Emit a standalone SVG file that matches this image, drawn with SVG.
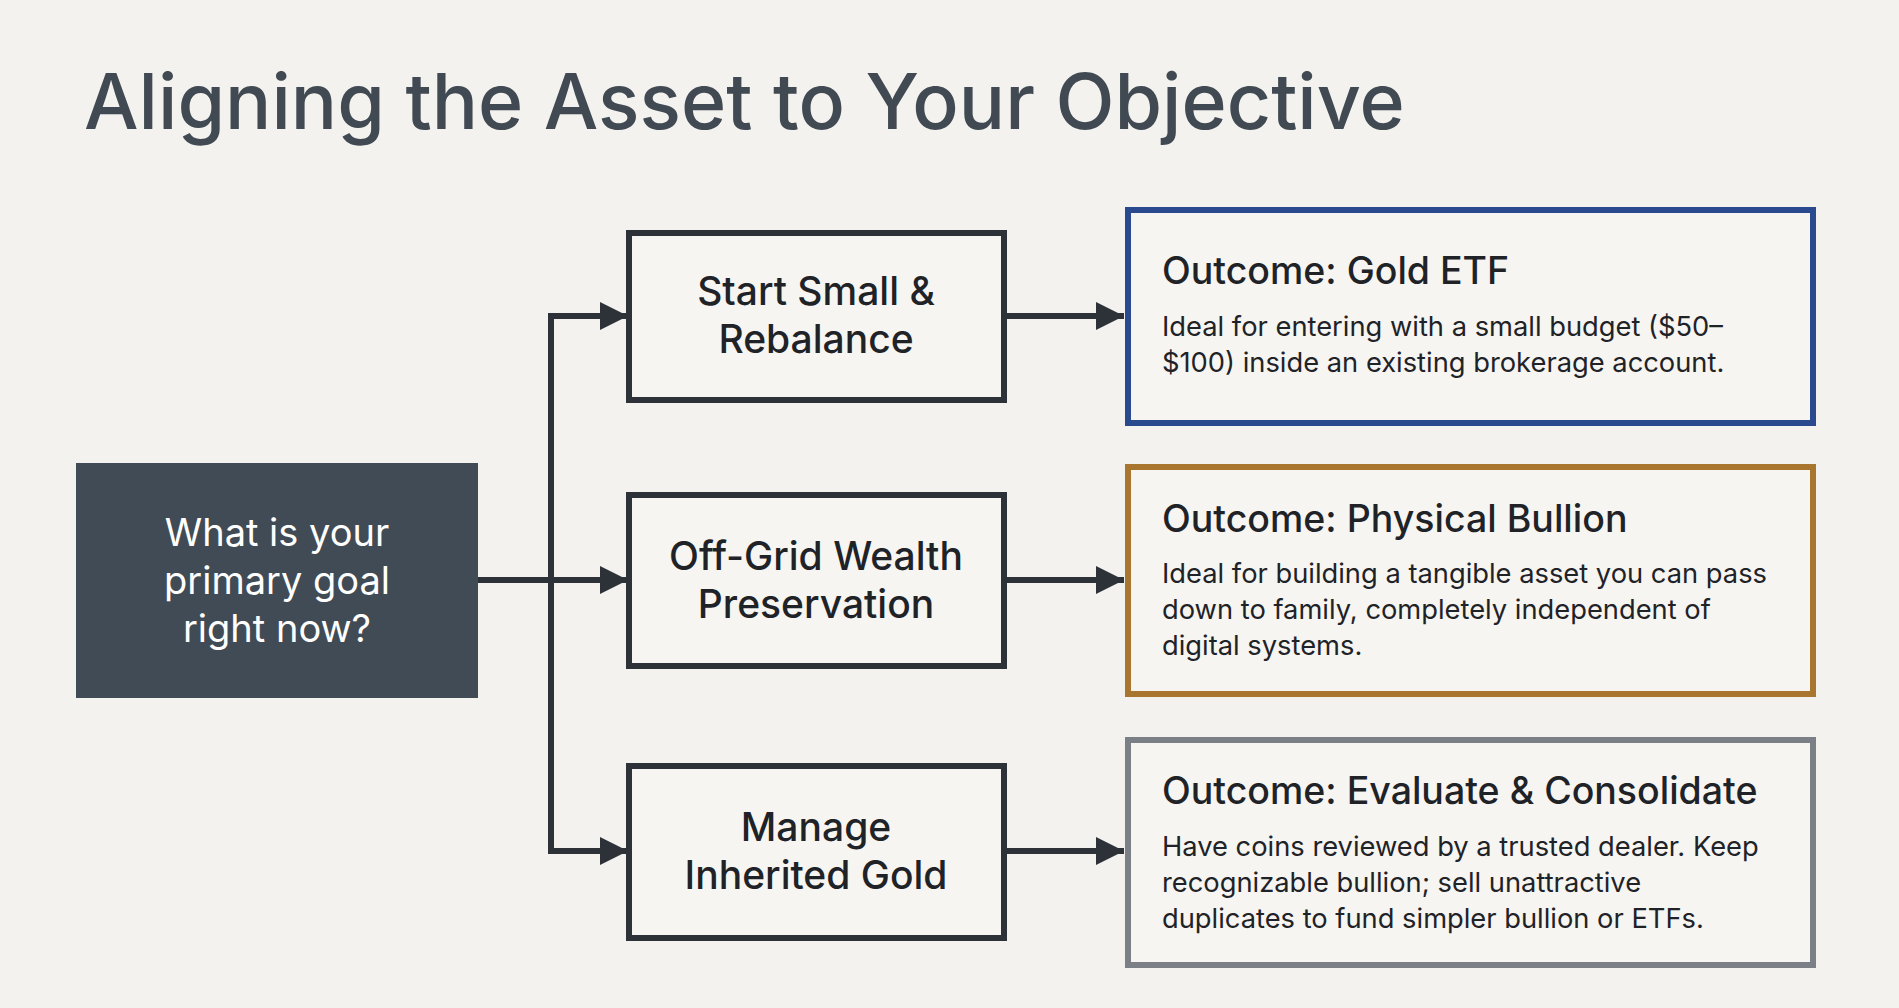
<svg xmlns="http://www.w3.org/2000/svg" width="1899" height="1008" viewBox="0 0 1899 1008">
<style>
.t{font-family:Inter,"Noto Sans","Liberation Sans",sans-serif;fill:#1f2328}
.mid{fill:#f6f5f1;stroke:#2c3238;stroke-width:6}
.out{fill:#f6f5f1;stroke-width:6}
.ml{font-size:39px;font-weight:500;text-anchor:middle}
.oh{font-size:37.5px;font-weight:500}
.ob{font-size:27.3px}
.c{stroke:#2c3238;stroke-width:6;fill:none}
</style>
<defs>
<marker id="b" viewBox="0 0 10 10" refX="10" refY="5" markerWidth="28" markerHeight="28" markerUnits="userSpaceOnUse" orient="auto"><path d="M0,0L10,5L0,10z" fill="#2c3238"/></marker></defs>
<rect width="1899" height="1008" fill="#f3f2ee"/>
<text class="t" x="84" y="129" font-size="77" font-weight="500" style="fill:#414a53">Aligning the Asset to Your Objective</text>
<g id="connectors">
<path class="c" d="M478,580H628" marker-end="url(#b)"/>
<path class="c" d="M551,851V316H628" marker-end="url(#b)"/>
<path class="c" d="M551,580V851H628" marker-end="url(#b)"/>
<path class="c" d="M1004,316H1124" marker-end="url(#b)"/>
<path class="c" d="M1004,580H1124" marker-end="url(#b)"/>
<path class="c" d="M1004,851H1124" marker-end="url(#b)"/>
</g>
<g id="start"><rect x="76" y="463" width="402" height="235" fill="#414b55"/>
<text class="t ml" x="277" y="546" style="fill:#fff;font-size:38px;font-weight:400">What is your</text>
<text class="t ml" x="277" y="594" style="fill:#fff;font-size:38px;font-weight:400">primary goal</text>
<text class="t ml" x="277" y="642" style="fill:#fff;font-size:38px;font-weight:400">right now?</text></g>
<g id="m1"><rect class="mid" x="629" y="233" width="375" height="167"/>
<text class="t ml" x="816" y="305">Start Small &amp;</text><text class="t ml" x="816" y="353">Rebalance</text></g>
<g id="m2"><rect class="mid" x="629" y="495" width="375" height="171"/>
<text class="t ml" x="816" y="570">Off-Grid Wealth</text><text class="t ml" x="816" y="618">Preservation</text></g>
<g id="m3"><rect class="mid" x="629" y="766" width="375" height="172"/>
<text class="t ml" x="816" y="841">Manage</text><text class="t ml" x="816" y="889">Inherited Gold</text></g>
<g id="o1"><rect class="out" x="1128" y="210" width="685" height="213" stroke="#2a4a8f"/>
<text class="t oh" x="1162" y="284">Outcome: Gold ETF</text>
<text class="t ob" x="1162" y="336">Ideal for entering with a small budget ($50–</text>
<text class="t ob" x="1162" y="372">$100) inside an existing brokerage account.</text></g>
<g id="o2"><rect class="out" x="1128" y="467" width="685" height="227" stroke="#a8762e"/>
<text class="t oh" x="1162" y="532">Outcome: Physical Bullion</text>
<text class="t ob" x="1162" y="583">Ideal for building a tangible asset you can pass</text>
<text class="t ob" x="1162" y="619">down to family, completely independent of</text>
<text class="t ob" x="1162" y="655">digital systems.</text></g>
<g id="o3"><rect class="out" x="1128" y="740" width="685" height="225" stroke="#7a8085"/>
<text class="t oh" x="1162" y="804">Outcome: Evaluate &amp; Consolidate</text>
<text class="t ob" x="1162" y="856">Have coins reviewed by a trusted dealer. Keep</text>
<text class="t ob" x="1162" y="892">recognizable bullion; sell unattractive</text>
<text class="t ob" x="1162" y="928">duplicates to fund simpler bullion or ETFs.</text></g>
</svg>
